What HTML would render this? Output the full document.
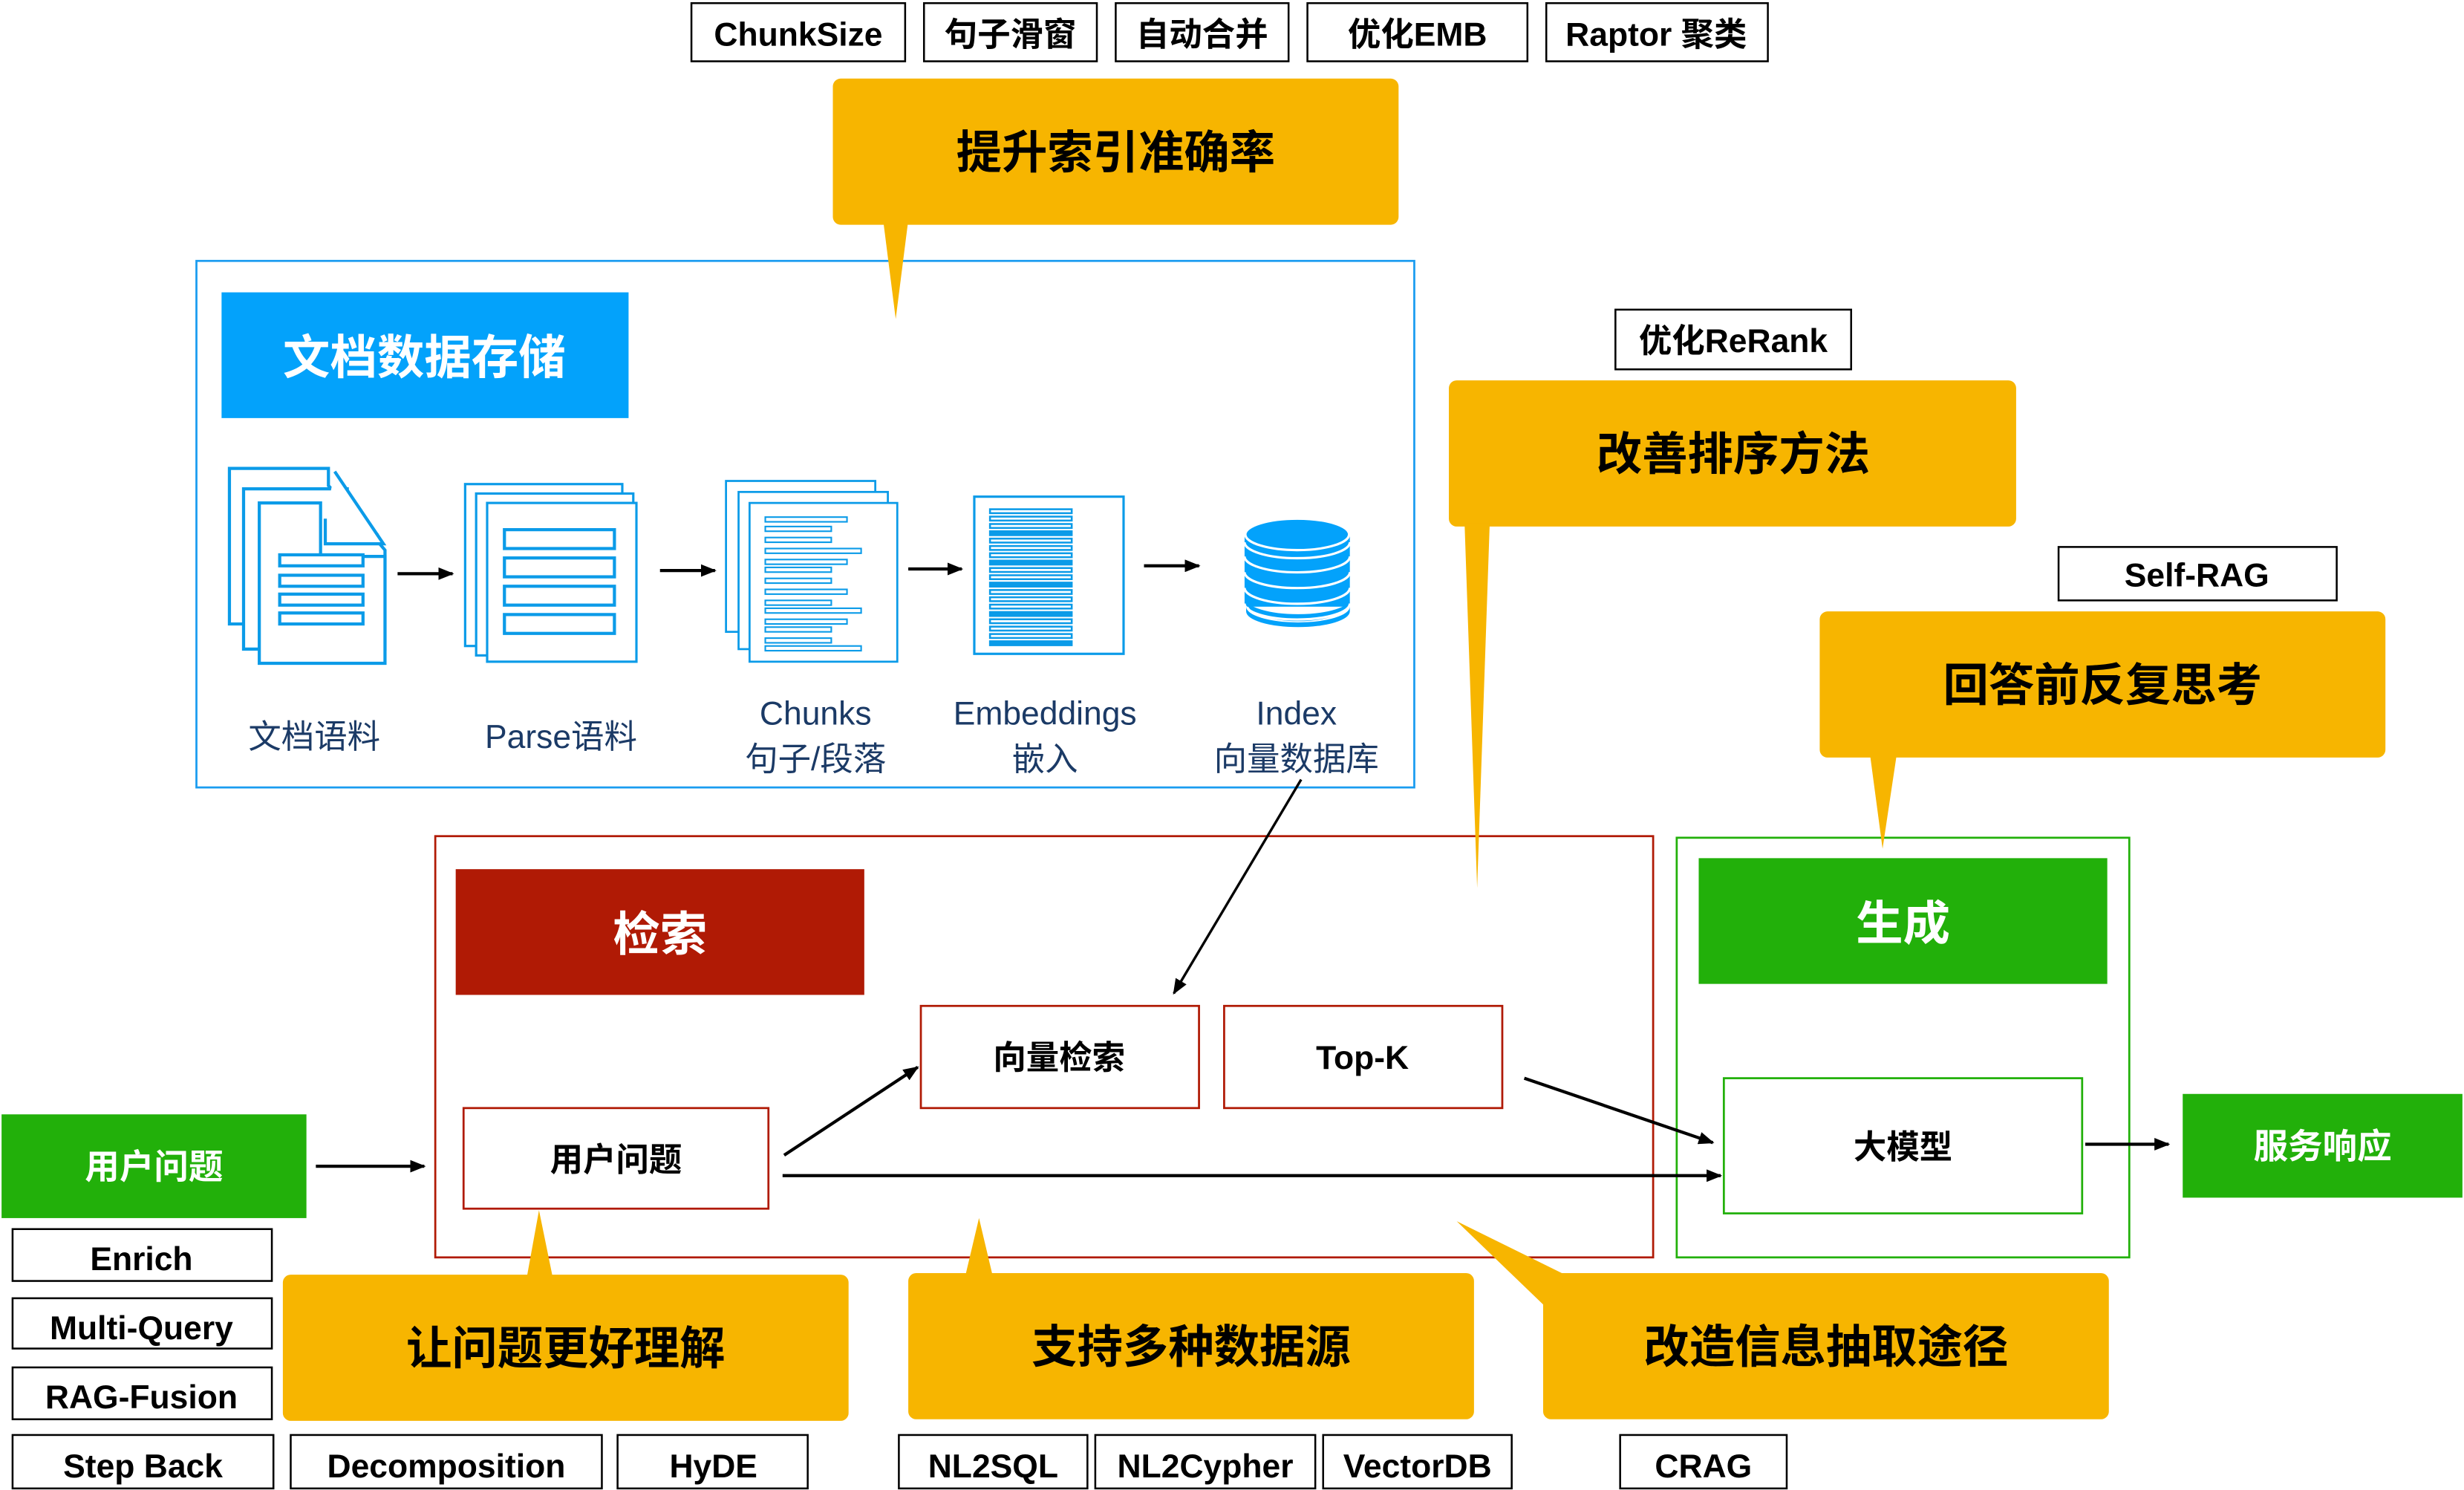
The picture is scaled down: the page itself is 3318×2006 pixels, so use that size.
<!DOCTYPE html>
<html><head><meta charset="utf-8"><style>
html,body{margin:0;padding:0;background:#fff;}
svg{display:block;}
text{font-family:"Liberation Sans","Noto Sans CJK SC",sans-serif;}
</style></head><body>
<svg width="3318" height="2006" viewBox="0 0 1568 948" preserveAspectRatio="none" xmlns="http://www.w3.org/2000/svg">
<defs>
<marker id="ar" markerWidth="10" markerHeight="8" refX="9" refY="4" orient="auto" markerUnits="userSpaceOnUse"><path d="M0,0 L10,4 L0,8 Z" fill="#000"/></marker>
</defs>
<rect width="1568" height="948" fill="#fff"/>

<!-- top tags -->
<g fill="#fff" stroke="#000" stroke-width="1.2">
<rect x="440" y="2" width="136" height="37"/><rect x="588" y="2" width="110" height="37"/><rect x="710" y="2" width="110" height="37"/><rect x="832" y="2" width="140" height="37"/><rect x="984" y="2" width="141" height="37"/>
<rect x="1028" y="197" width="150" height="38"/><rect x="1310" y="348" width="177" height="34"/>
<rect x="8" y="782" width="165" height="33"/><rect x="8" y="826" width="165" height="32"/><rect x="8" y="870" width="165" height="33"/>
<rect x="8" y="913" width="166" height="34"/><rect x="185" y="913" width="198" height="34"/><rect x="393" y="913" width="121" height="34"/>
<rect x="572" y="913" width="120" height="34"/><rect x="697" y="913" width="140" height="34"/><rect x="842" y="913" width="120" height="34"/><rect x="1031" y="913" width="106" height="34"/>
</g>
<g font-size="21" font-weight="bold" text-anchor="middle" fill="#000">
<text x="508" y="29">ChunkSize</text><text x="643" y="29">句子滑窗</text><text x="765" y="29">自动合并</text><text x="902" y="29">优化EMB</text><text x="1054" y="29">Raptor 聚类</text>
<text x="1103" y="224">优化ReRank</text><text x="1398" y="373">Self-RAG</text>
<text x="90" y="808">Enrich</text><text x="90" y="852">Multi-Query</text><text x="90" y="896">RAG-Fusion</text>
<text x="91" y="940">Step Back</text><text x="284" y="940">Decomposition</text><text x="454" y="940">HyDE</text>
<text x="632" y="940">NL2SQL</text><text x="767" y="940">NL2Cypher</text><text x="902" y="940">VectorDB</text><text x="1084" y="940">CRAG</text>
</g>

<!-- blue box -->
<rect x="125" y="166" width="775" height="335" fill="none" stroke="#1a9cf0" stroke-width="1.3"/>
<rect x="141" y="186" width="259" height="80" fill="#03a2fb"/>
<text x="270" y="238" font-size="30" font-weight="bold" fill="#fff" text-anchor="middle">文档数据存储</text>

<!-- doc icon -->
<g fill="#fff" stroke="#0b9be8" stroke-width="2">
<path d="M146,298 H209 V309 L240,340 V397 H146 Z"/>
<path d="M155,311 H221 V322 L245,350 V413 H155 Z"/>
<path d="M165,320 H204 V354 H245 V422 H165 Z"/>
<path d="M213,300 L244,346 H207 V330"/>
<rect x="178" y="353" width="53" height="7"/><rect x="178" y="366" width="53" height="7"/><rect x="178" y="378" width="53" height="7"/><rect x="178" y="390" width="53" height="7"/>
</g>
<!-- parse icon -->
<g fill="#fff" stroke="#0b9be8" stroke-width="1.5">
<rect x="296" y="308" width="100" height="103"/><rect x="303" y="314" width="100" height="103"/><rect x="310" y="320" width="95" height="101"/>
<rect x="321" y="337" width="70" height="12" stroke-width="2"/><rect x="321" y="355" width="70" height="12" stroke-width="2"/><rect x="321" y="373" width="70" height="12" stroke-width="2"/><rect x="321" y="391" width="70" height="12" stroke-width="2"/>
</g>
<!-- chunks icon -->
<g fill="#fff" stroke="#0b9be8" stroke-width="1.3">
<rect x="462" y="306" width="95" height="96"/><rect x="470" y="313" width="95" height="100"/><rect x="477" y="320" width="94" height="101"/>
<g stroke-width="1">
<rect x="487" y="329" width="52" height="3"/><rect x="487" y="335" width="42" height="3"/><rect x="487" y="342" width="42" height="3"/><rect x="487" y="349" width="61" height="3"/>
<rect x="487" y="356" width="52" height="3"/><rect x="487" y="361" width="42" height="3"/><rect x="487" y="368" width="42" height="3"/><rect x="487" y="375" width="52" height="3"/>
<rect x="487" y="382" width="42" height="3"/><rect x="487" y="387" width="61" height="3"/><rect x="487" y="394" width="52" height="3"/><rect x="487" y="399" width="42" height="3"/>
<rect x="487" y="406" width="42" height="3"/><rect x="487" y="411" width="61" height="3"/>
</g></g>
<!-- embedding icon -->
<rect x="620" y="316" width="95" height="100" fill="#fff" stroke="#0b9be8" stroke-width="1.5"/>
<g fill="none" stroke="#0b9be8" stroke-width="1.2">
<rect x="630" y="324" width="52" height="2.5"/><rect x="630" y="328.7" width="52" height="2.5"/><rect x="630" y="333.4" width="52" height="2.5"/><rect x="630" y="338" width="52" height="2.5" fill="#0b9be8"/>
<rect x="630" y="342.7" width="52" height="2.5"/><rect x="630" y="347.4" width="52" height="2.5"/><rect x="630" y="352" width="52" height="2.5"/><rect x="630" y="356.7" width="52" height="2.5" fill="#0b9be8"/>
<rect x="630" y="361.4" width="52" height="2.5"/><rect x="630" y="366" width="52" height="2.5"/><rect x="630" y="370.7" width="52" height="2.5" fill="#0b9be8"/><rect x="630" y="375.4" width="52" height="2.5"/>
<rect x="630" y="380" width="52" height="2.5"/><rect x="630" y="384.7" width="52" height="2.5"/><rect x="630" y="389.4" width="52" height="2.5" fill="#0b9be8"/><rect x="630" y="394" width="52" height="2.5"/>
<rect x="630" y="398.7" width="52" height="2.5"/><rect x="630" y="403.4" width="52" height="2.5"/><rect x="630" y="408" width="52" height="2.5" fill="#0b9be8"/>
</g>
<!-- db icon -->
<g fill="#03a2fb" stroke="#fff" stroke-width="1.5">
<path d="M793,384 v-4 a33,10 0 0 0 66,0 v4 a33,12 0 0 1 -66,0 Z"/>
<rect x="792" y="340" width="67" height="46" stroke="none"/>
<path d="M792,384 a33,10 0 0 0 67,0" fill="none"/>
<path d="M792,374 a33,10 0 0 0 67,0" fill="none"/>
<path d="M792,364 a33,10 0 0 0 67,0" fill="none"/>
<path d="M792,354 a33,10 0 0 0 67,0" fill="none"/>
<path d="M792,345 a33,10 0 0 0 67,0" fill="none"/>
<ellipse cx="825.5" cy="340" rx="33" ry="10"/>
<path d="M793,386 a33,10 0 0 0 66,0 v3 a33,10 0 0 1 -66,0 Z" stroke="none"/>
</g>
<!-- arrows top -->
<g stroke="#000" stroke-width="2" marker-end="url(#ar)">
<line x1="253" y1="365" x2="288" y2="365"/><line x1="420" y1="363" x2="455" y2="363"/><line x1="578" y1="362" x2="612" y2="362"/><line x1="728" y1="360" x2="763" y2="360"/>
</g>
<g font-size="21" fill="#1b3a66" text-anchor="middle">
<text x="200" y="476">文档语料</text><text x="357" y="476">Parse语料</text>
<text x="519" y="461">Chunks</text><text x="519" y="490">句子/段落</text>
<text x="665" y="461">Embeddings</text><text x="665" y="490">嵌入</text>
<text x="825" y="461">Index</text><text x="825" y="490">向量数据库</text>
</g>

<!-- red box -->
<rect x="277" y="532" width="775" height="268" fill="none" stroke="#b01a05" stroke-width="1.3"/>
<rect x="290" y="553" width="260" height="80" fill="#b01a05"/>
<text x="420" y="605" font-size="30" font-weight="bold" fill="#fff" text-anchor="middle">检索</text>
<g fill="#fff" stroke="#b01a05" stroke-width="1.3">
<rect x="586" y="640" width="177" height="65"/><rect x="779" y="640" width="177" height="65"/><rect x="295" y="705" width="194" height="64"/>
</g>
<g font-size="21" font-weight="bold" text-anchor="middle" fill="#000">
<text x="674" y="680">向量检索</text><text x="867" y="680">Top-K</text><text x="392" y="745">用户问题</text>
</g>

<!-- green box -->
<rect x="1067" y="533" width="288" height="267" fill="none" stroke="#22b00a" stroke-width="1.3"/>
<rect x="1081" y="546" width="260" height="80" fill="#22b00a"/>
<text x="1211" y="598" font-size="30" font-weight="bold" fill="#fff" text-anchor="middle">生成</text>
<rect x="1097" y="686" width="228" height="86" fill="#fff" stroke="#22b00a" stroke-width="1.3"/>
<text x="1211" y="737" font-size="21" font-weight="bold" text-anchor="middle">大模型</text>

<rect x="1" y="709" width="194" height="66" fill="#22b00a"/>
<text x="98" y="750" font-size="22" font-weight="bold" fill="#fff" text-anchor="middle">用户问题</text>
<rect x="1389" y="696" width="178" height="66" fill="#22b00a"/>
<text x="1478" y="737" font-size="22" font-weight="bold" fill="#fff" text-anchor="middle">服务响应</text>

<!-- connectors -->
<g stroke="#000" stroke-width="2" marker-end="url(#ar)">
<line x1="201" y1="742" x2="270" y2="742"/>
<line x1="499" y1="735" x2="584" y2="679"/>
<line x1="498" y1="748" x2="1095" y2="748"/>
<line x1="970" y1="686" x2="1090" y2="727"/>
<line x1="1327" y1="728" x2="1380" y2="728"/>
<line x1="828" y1="496" x2="747" y2="632" stroke-width="1.6"/>
</g>

<!-- callouts -->
<g fill="#f7b500">
<rect x="530" y="50" width="360" height="93" rx="5"/><polygon points="562,140 578,140 570,203"/>
<rect x="922" y="242" width="361" height="93" rx="5"/><polygon points="932,333 948,333 940,565"/>
<rect x="1158" y="389" width="360" height="93" rx="5"/><polygon points="1190,480 1207,480 1198,540"/>
<rect x="180" y="811" width="360" height="93" rx="5"/><polygon points="335,814 352,814 343,770"/>
<rect x="578" y="810" width="360" height="93" rx="5"/><polygon points="614,813 632,813 623,775"/>
<rect x="982" y="810" width="360" height="93" rx="5"/><polygon points="982,830 1000,813 927,777"/>
</g>
<g font-size="29" font-weight="bold" text-anchor="middle" fill="#000">
<text x="710" y="107">提升索引准确率</text>
<text x="1103" y="299">改善排序方法</text>
<text x="1338" y="446">回答前反复思考</text>
<text x="360" y="868">让问题更好理解</text>
<text x="758" y="867">支持多种数据源</text>
<text x="1162" y="867">改造信息抽取途径</text>
</g>
</svg>
</body></html>
